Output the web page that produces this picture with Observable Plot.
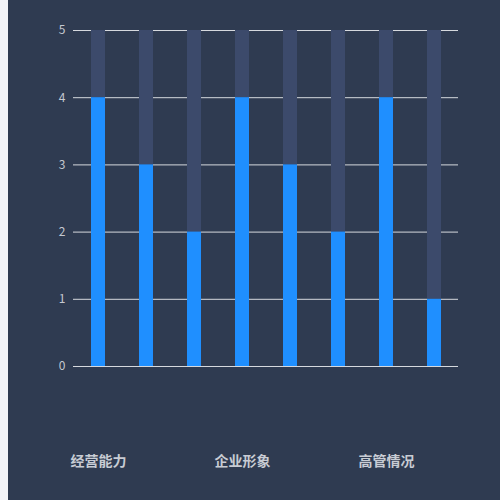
<!DOCTYPE html>
<html>
<head>
<meta charset="utf-8">
<script src="https://cdn.jsdelivr.net/npm/d3@7"></script>
<script src="https://cdn.jsdelivr.net/npm/@observablehq/plot@0.6"></script>
<style>
  html, body { margin: 0; padding: 0; background: #f3f4f8; }
  #wrap { position: absolute; left: 8px; top: 0; width: 492px; height: 500px; background: #2f3b51; }
</style>
</head>
<body>
<div id="wrap"></div>
<script>
const indices = [0, 1, 2, 3, 4, 5, 6, 7];
const values = [4, 3, 2, 4, 3, 2, 4, 1];
const maxValue = 5;
const tickLabels = ["经营能力", "", "", "企业形象", "", "", "高管情况", ""];
const yTicks = [0, 1, 2, 3, 4, 5];

const data = indices.map((i) => ({ i, v: values[i], max: maxValue }));

const chart = Plot.plot({
  width: 492,
  height: 500,
  marginLeft: 65,
  marginRight: 42,
  marginTop: 30,
  marginBottom: 134,
  style: { background: "transparent", fontFamily: "'Noto Sans CJK SC', 'Noto Sans', sans-serif" },
  x: { domain: indices, paddingInner: 0.71, paddingOuter: 0.355, align: 0.5 },
  y: { domain: [0, 5] },
  marks: [
    Plot.ruleY(yTicks, { stroke: "#d6d9de", strokeWidth: 1 }),
    Plot.barY(data, { x: "i", y: "max", fill: "#3c4a6b" }),
    Plot.barY(data, { x: "i", y: "v", fill: "#1f8fff" }),
    Plot.axisY(yTicks, { tickSize: 0, tickPadding: 8, fill: "#c4c8d0", fontSize: 12, label: null, tickFormat: "d" }),
    Plot.axisX(indices, {
      tickSize: 0, tickPadding: 90, fill: "#c8ccd4", fontSize: 14, fontWeight: "bold", label: null,
      tickFormat: (d) => tickLabels[d]
    })
  ]
});
document.getElementById("wrap").appendChild(chart);
</script>
</body>
</html>
